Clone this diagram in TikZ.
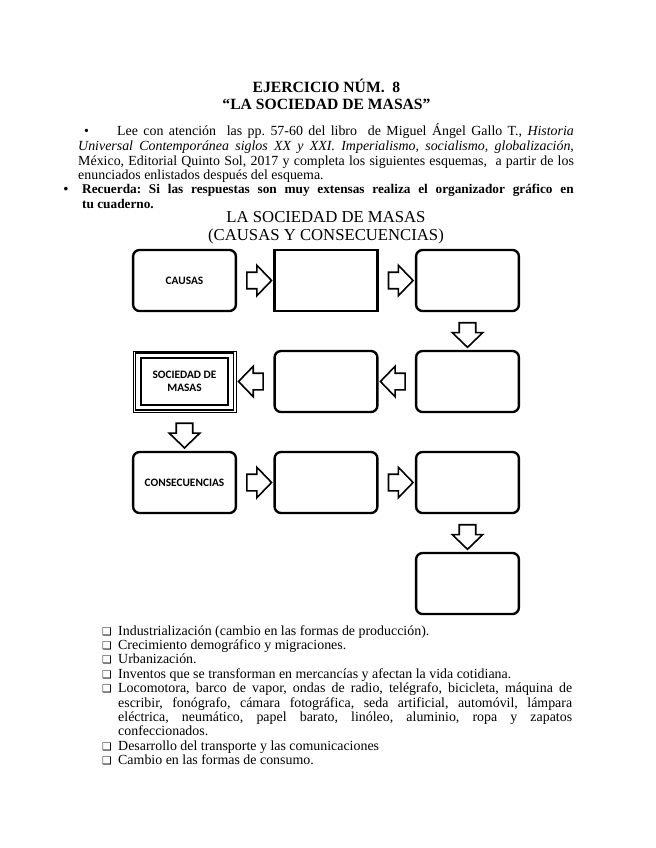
\documentclass[tikz,border=0pt]{standalone}
\usepackage{fontspec}
\setmainfont{Liberation Serif}
\newfontfamily\cajafont{Carlito}
\newfontfamily\simbfont{DejaVu Sans}
\usetikzlibrary{calc,positioning,shapes.arrows}
\frenchspacing

\newcommand{\casilla}{\leavevmode\llap{{\simbfont\fontsize{10}{10}\selectfont ❑}\hspace{6pt}}}

\begin{document}
\begin{tikzpicture}[x=0.934pt, y=-0.934pt,
    caja/.style={draw, line width=2.2pt, rounded corners=6pt, minimum width=96pt,
      minimum height=57pt, inner sep=2pt, align=center,
      font=\cajafont\bfseries\fontsize{10.6}{12.5}\selectfont},
    cajarecta/.style={caja, sharp corners},
    flecha/.style={single arrow, draw, line width=1.5pt, fill=white, inner xsep=0pt,
      inner ysep=7pt, minimum height=23pt, single arrow head extend=6.5pt,
      single arrow tip angle=92},
    texto/.style={anchor=north west, inner sep=0pt, align=justify}
  ]
  \useasboundingbox (0,0) rectangle (655,848);

  % encabezado
  \node[align=center, font=\bfseries\fontsize{14.6}{16}\selectfont] (titulo) at (326.5,94.5)
    {EJERCICIO NÚM.\ \ 8\\“LA SOCIEDAD DE MASAS”};
  \node[texto, text width=463pt, font=\fontsize{13}{13.7}\selectfont] (indica) at (78,123.5) {%
    \makebox[36.4pt][l]{\hspace{5.6pt}•}Lee con atención\ \ las pp. 57-60 del libro\ \ de
    Miguel Ángel Gallo T., \textit{Historia\linebreak Universal Contemporánea siglos XX y XXI.
    Imperialismo, socialismo, globalización,}\linebreak México, Editorial Quinto Sol, 2017 y
    completa los siguientes esquemas,\ \ a partir de los\linebreak enunciados enlistados
    después del esquema.};
  \node[texto, text width=459pt, font=\bfseries\fontsize{12.4}{13.7}\selectfont] (recuerda) at (82,184) {%
    \llap{•\hspace{13pt}}Recuerda: Si las respuestas\ son\ muy extensas realiza el\ organizador
    gráfico en\linebreak tu cuaderno.};
  \node[align=center, font=\fontsize{15.6}{16.5}\selectfont] (esquema) at (326,227.5)
    {LA SOCIEDAD DE MASAS\\(CAUSAS Y CONSECUENCIAS)};

  % esquema
  \node[caja] (causas) at (184.5,280.5) {CAUSAS};
  \node[cajarecta] (c2) at (326,280.5) {};
  \node[caja] (c3) at (467.5,280.5) {};
  \node[caja] (c4) at (467.5,381.5) {};
  \node[caja] (c5) at (326,381.5) {};
  \node[draw, line width=0.7pt, minimum width=96pt, minimum height=57pt] (sociedad) at (184.5,381.5) {};
  \draw[line width=1.1pt] ($(sociedad.north west)+(2.4,2.4)$) rectangle ($(sociedad.south east)+(-2.4,-2.4)$);
  \node[cajarecta, line width=1.8pt, minimum width=81pt, minimum height=44pt] (socint) at (sociedad) {SOCIEDAD DE\\MASAS};
  \node[caja] (consec) at (184.5,482.5) {CONSECUENCIAS};
  \node[caja] (c7) at (326,482.5) {};
  \node[caja] (c8) at (467.5,482.5) {};
  \node[caja] (c9) at (467.5,583.5) {};

  \node[flecha] (f1) at ($(causas.east)!0.5!(c2.west)$) {};
  \node[flecha] (f2) at ($(c2.east)!0.5!(c3.west)$) {};
  \node[flecha, rotate=-90] (f3) at ($(c3.south)!0.5!(c4.north)$) {};
  \node[flecha, rotate=180] (f4) at ($(c4.west)!0.5!(c5.east)$) {};
  \node[flecha, rotate=180] (f5) at ($(c5.west)!0.5!(sociedad.east)$) {};
  \node[flecha, rotate=-90] (f6) at ($(sociedad.south)!0.5!(consec.north)$) {};
  \node[flecha] (f7) at ($(consec.east)!0.5!(c7.west)$) {};
  \node[flecha] (f8) at ($(c7.east)!0.5!(c8.west)$) {};
  \node[flecha, rotate=-90] (f9) at ($(c8.south)!0.5!(c9.north)$) {};

  % enunciados
  \node[texto, text width=424pt, font=\fontsize{13}{13.45}\selectfont] (lista) at (118,625) {%
    \casilla Industrialización (cambio en las formas de producción).\par
    \casilla Crecimiento demográfico y migraciones.\par
    \casilla Urbanización.\par
    \casilla Inventos que se transforman en mercancías y afectan la vida cotidiana.\par
    \casilla Locomotora, barco de vapor,\ ondas de radio, telégrafo, bicicleta, máquina de\linebreak
    escribir, fonógrafo,\ cámara fotográfica, seda artificial, automóvil,\ lámpara\linebreak
    eléctrica, neumático, papel barato, linóleo, aluminio, ropa y zapatos\linebreak
    confeccionados.\par
    \casilla Desarrollo del transporte y las comunicaciones\par
    \casilla Cambio en las formas de consumo.};
\end{tikzpicture}
\end{document}
